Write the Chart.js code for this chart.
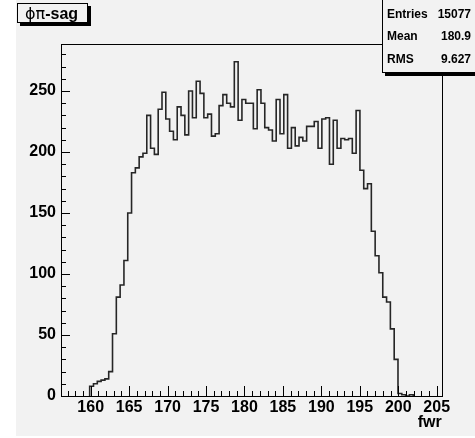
<!DOCTYPE html>
<html>
<head>
<meta charset="utf-8">
<script src="https://cdn.jsdelivr.net/npm/chart.js@4.4.0/dist/chart.umd.min.js"></script>
<style>
  body { margin: 0; background: #fff; }
  canvas { display: block; }
</style>
</head>
<body>
<canvas id="hist" width="475" height="438"></canvas>
<script>
// fwr histogram: bins of 0.495 starting at 159.87
const binStart = 159.87;
const binWidth = 0.495;
const counts = [
  8, 10, 12, 13, 14, 20, 51, 81, 91, 111,
  150, 183, 187, 196, 199, 230, 203, 198, 235, 249,
  227, 217, 210, 237, 230, 214, 250, 228, 258, 248,
  228, 231, 213, 215, 238, 247, 240, 237, 274, 226,
  243, 240, 240, 219, 251, 240, 220, 218, 209, 243,
  215, 247, 203, 220, 205, 212, 209, 221, 221, 225,
  203, 227, 228, 190, 226, 203, 211, 210, 211, 199,
  234, 185, 170, 174, 135, 115, 101, 81, 77, 55,
  30, 2, 1, 0, 1
];
const xTicks = [160, 165, 170, 175, 180, 185, 190, 195, 200, 205];
const yTicks = [0, 50, 100, 150, 200, 250];
const statNames = ['Entries', 'Mean', 'RMS'];
const statValues = ['15077', '180.9', '9.627'];

const FONT = '"Liberation Sans", Arial, sans-serif';

// outline of the histogram as step points (lower edge of each bin)
const pts = [{ x: binStart, y: 0 }];
counts.forEach((c, i) => pts.push({ x: binStart + i * binWidth, y: c }));
pts.push({ x: binStart + counts.length * binWidth, y: 0 });

const rootStyle = {
  id: 'rootStyle',
  beforeDraw(chart) {
    const ctx = chart.ctx;
    ctx.save();
    ctx.fillStyle = '#ffffff';
    ctx.fillRect(0, 0, chart.width, chart.height);
    ctx.fillStyle = '#f2f2f2';
    ctx.fillRect(16, 0, chart.width - 16, 436);
    ctx.restore();
  },
  afterDraw(chart) {
    const ctx = chart.ctx;
    const { left, right, top, bottom } = chart.chartArea;
    const xs = chart.scales.x, ys = chart.scales.y;
    ctx.save();
    ctx.strokeStyle = '#000';
    ctx.lineWidth = 1;
    ctx.beginPath();
    // x ticks, pointing into the frame
    for (let v = Math.ceil(xs.min); v <= xs.max; v++) {
      const px = Math.round(xs.getPixelForValue(v)) + 0.5;
      const len = v % 5 === 0 ? 10 : 5;
      ctx.moveTo(px, bottom);
      ctx.lineTo(px, bottom - len);
    }
    // y ticks
    for (let v = 0; v <= ys.max; v += 10) {
      const py = Math.round(ys.getPixelForValue(v)) + 0.5;
      const len = v % 50 === 0 ? 9 : 5;
      ctx.moveTo(left, py);
      ctx.lineTo(left + len, py);
    }
    ctx.stroke();
    ctx.strokeRect(Math.round(left) + 0.5, Math.round(top) + 0.5,
      Math.round(right - left), Math.round(bottom - top));

    // title box
    ctx.fillStyle = '#000';
    ctx.fillRect(20, 6, 71, 20);
    ctx.fillStyle = '#f2f2f2';
    ctx.fillRect(17, 3, 71, 20);
    ctx.strokeRect(17.5, 3.5, 70, 19);
    ctx.fillStyle = '#000';
    ctx.textBaseline = 'alphabetic';
    ctx.textAlign = 'left';
    ctx.font = '16px "DejaVu Sans", sans-serif';
    ctx.fillText('ϕπ', 25, 19);
    const w = ctx.measureText('ϕπ').width;
    ctx.font = 'bold 16px ' + FONT;
    ctx.fillText('-sag', 25 + w, 19);

    // stats box
    ctx.fillStyle = '#000';
    ctx.fillRect(385, 3, 100, 73);
    ctx.fillStyle = '#f2f2f2';
    ctx.fillRect(382, 0, 100, 73);
    ctx.strokeRect(382.5, -0.5, 100, 73);
    ctx.fillStyle = '#000';
    ctx.font = 'bold 12px ' + FONT;
    statNames.forEach((n, i) => {
      const y = 18 + i * 22.4;
      ctx.textAlign = 'left';
      ctx.fillText(n, 387, y);
      ctx.textAlign = 'right';
      ctx.fillText(statValues[i], 471, y);
    });
    ctx.restore();
  }
};

new Chart(document.getElementById('hist'), {
  type: 'line',
  data: {
    datasets: [{
      data: pts,
      stepped: 'before',
      borderColor: '#262626',
      borderWidth: 1.6,
      pointRadius: 0,
      fill: false
    }]
  },
  options: {
    responsive: false,
    animation: false,
    layout: { padding: { left: 16, right: 33.3, top: 44, bottom: 0 } },
    plugins: { legend: { display: false }, tooltip: { enabled: false } },
    scales: {
      x: {
        type: 'linear',
        min: 156.14,
        max: 205.65,
        afterBuildTicks: s => { s.ticks = xTicks.map(v => ({ value: v })); },
        afterFit: s => { s.height = 42; },
        grid: { display: false, drawTicks: false },
        border: { display: false },
        ticks: {
          autoSkip: false, maxRotation: 0, padding: 2, color: '#000',
          font: { family: FONT, weight: 'bold', size: 16 }
        },
        title: {
          display: true, text: 'fwr', align: 'end', color: '#000',
          padding: { top: 0, bottom: 6 },
          font: { family: FONT, weight: 'bold', size: 16 }
        }
      },
      y: {
        min: 0,
        max: 288.5,
        afterBuildTicks: s => { s.ticks = yTicks.map(v => ({ value: v })); },
        afterFit: s => { s.width = 45; },
        grid: { display: false, drawTicks: false },
        border: { display: false },
        ticks: {
          padding: 5, color: '#000',
          font: { family: FONT, weight: 'bold', size: 16 }
        }
      }
    }
  },
  plugins: [rootStyle]
});
</script>
</body>
</html>
